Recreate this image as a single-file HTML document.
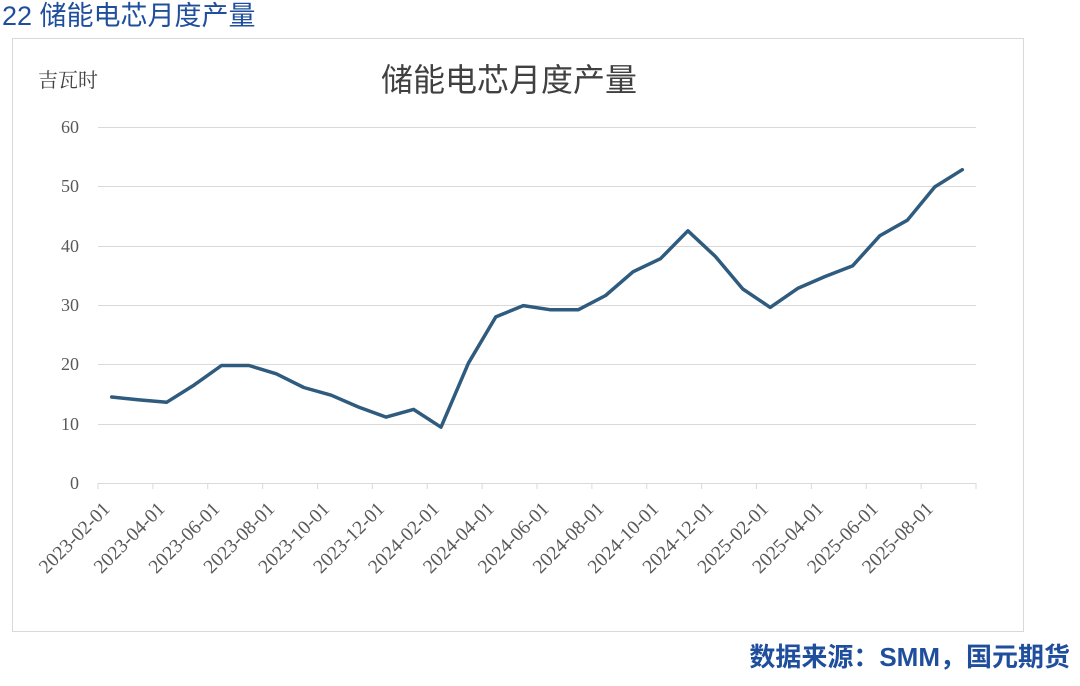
<!DOCTYPE html>
<html><head><meta charset="utf-8"><style>
body{margin:0;background:#fff;width:1080px;height:681px;overflow:hidden;font-family:"Liberation Serif","Noto Serif CJK SC",serif;}
</style></head><body>
<svg width="1080" height="681" xmlns="http://www.w3.org/2000/svg">
<text x="2" y="25" font-family="Liberation Sans, Noto Sans CJK SC, sans-serif" font-size="27" fill="#1f4e9c">22 储能电芯月度产量</text>
<rect x="12.5" y="38.5" width="1011" height="593" fill="#fff" stroke="#d9d9d9"/>
<text x="38" y="87" font-size="20" fill="#404040" font-family="Liberation Serif, Noto Serif CJK SC, serif">吉瓦时</text>
<text x="509" y="91" font-size="32" fill="#404040" text-anchor="middle" font-family="Liberation Sans, Noto Sans CJK SC, sans-serif">储能电芯月度产量</text>
<g stroke="#d9d9d9" stroke-width="1">
<line x1="98" x2="976" y1="127.5" y2="127.5"/>
<line x1="98" x2="976" y1="186.5" y2="186.5"/>
<line x1="98" x2="976" y1="246.5" y2="246.5"/>
<line x1="98" x2="976" y1="305.5" y2="305.5"/>
<line x1="98" x2="976" y1="364.5" y2="364.5"/>
<line x1="98" x2="976" y1="424.5" y2="424.5"/>
<line x1="98" x2="976" y1="483.5" y2="483.5"/>
</g>
<g font-size="18" fill="#595959" text-anchor="end">
<text x="79" y="133">60</text><text x="79" y="192">50</text><text x="79" y="252">40</text><text x="79" y="311">30</text><text x="79" y="370">20</text><text x="79" y="430">10</text><text x="79" y="489">0</text>
</g>
<g id="ticks" stroke="#d9d9d9"></g>
<g id="labels" font-size="19.5" fill="#595959" text-anchor="end"></g>
<polyline id="line" fill="none" stroke="#2e5b7e" stroke-width="3.5" stroke-linejoin="round" stroke-linecap="round"/>
</svg>
<script>
var v=[14.5,14,13.6,16.5,19.8,19.8,18.4,16.1,14.8,12.8,11.1,12.4,9.4,20.2,28,29.9,29.2,29.2,31.6,35.6,37.8,42.5,38.2,32.7,29.6,32.8,34.8,36.6,41.7,44.3,49.9,52.8];
var step=878/32,pts=[];
for(var i=0;i<32;i++){pts.push((98+step*(i+0.5)).toFixed(1)+","+(483-v[i]*5.933).toFixed(1));}
document.getElementById("line").setAttribute("points",pts.join(" "));
var t="",l="",labs=["2023-02-01","2023-04-01","2023-06-01","2023-08-01","2023-10-01","2023-12-01","2024-02-01","2024-04-01","2024-06-01","2024-08-01","2024-10-01","2024-12-01","2025-02-01","2025-04-01","2025-06-01","2025-08-01"];
for(var k=0;k<=16;k++){var x=98+step*2*k;t+='<line x1="'+x+'" x2="'+x+'" y1="483" y2="489"/>';}
for(var k=0;k<16;k++){var x=98+step*2*k+13;l+='<text transform="translate('+x+',510) rotate(-45)">'+labs[k]+'</text>';}
document.getElementById("ticks").innerHTML=t;document.getElementById("labels").innerHTML=l;
</script>
<div style="position:absolute;right:10px;top:637px;font-family:'Liberation Sans','Noto Sans CJK SC',sans-serif;font-size:26px;font-weight:bold;color:#1f4e9c;">数据来源：SMM，国元期货</div>
</body></html>
